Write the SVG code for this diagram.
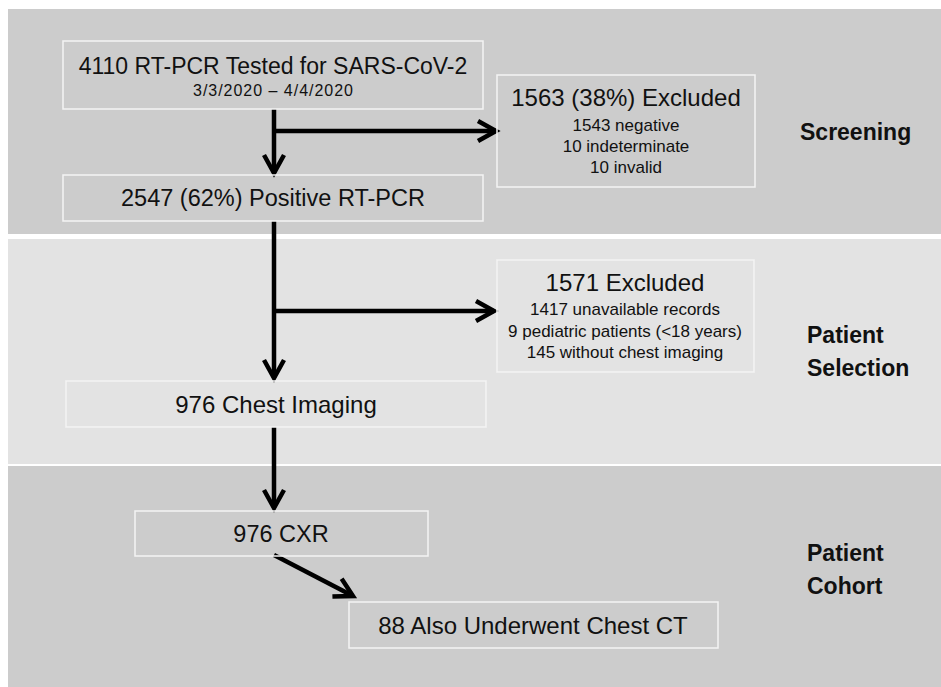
<svg xmlns="http://www.w3.org/2000/svg" width="941" height="687" viewBox="0 0 941 687">
<defs>
<style>
.band1{fill:#cccccc}
.band2{fill:#e3e3e3}
.box{fill:none;stroke:#f4f4f4;stroke-width:1.5}
.t{font-family:"Liberation Sans",Arial,sans-serif;fill:#111;text-anchor:middle}
.big{font-size:24px}
.small{font-size:17px}
.lbl{font-family:"Liberation Sans",Arial,sans-serif;font-weight:bold;font-size:23px;fill:#111}
.conn{stroke:#000;stroke-width:4.5;fill:none}
</style>
<marker id="ah" markerUnits="userSpaceOnUse" orient="auto" refX="0" refY="0" markerWidth="30" markerHeight="30" viewBox="-25 -15 30 30" overflow="visible">
<path d="M-18,-10 L0,0 L-18,10" fill="none" stroke="#000" stroke-width="4.5" stroke-linejoin="miter"/>
</marker>
</defs>
<rect x="0" y="0" width="941" height="687" fill="#ffffff"/>
<rect class="band1" x="8" y="9" width="933" height="225"/>
<rect class="band2" x="8" y="239" width="933" height="225"/>
<rect class="band1" x="8" y="466" width="933" height="221"/>

<g id="connectors">
<line class="conn" x1="274" y1="109" x2="274" y2="173" marker-end="url(#ah)"/>
<line class="conn" x1="274" y1="131" x2="496" y2="131" marker-end="url(#ah)"/>
<line class="conn" x1="274" y1="221" x2="274" y2="378" marker-end="url(#ah)"/>
<line class="conn" x1="274" y1="311" x2="494" y2="311" marker-end="url(#ah)"/>
<line class="conn" x1="274" y1="427" x2="274" y2="508" marker-end="url(#ah)"/>
<line class="conn" x1="274" y1="555" x2="353" y2="596" marker-end="url(#ah)"/>
</g>

<g id="tested">
<rect class="box" x="63" y="41" width="420" height="68"/>
<text class="t" x="273" y="74" style="font-size:23px">4110 RT-PCR Tested for SARS-CoV-2</text>
<text class="t" x="273" y="96" style="font-size:16px" textLength="160">3/3/2020 – 4/4/2020</text>
</g>

<g id="excluded1">
<rect class="box" x="497" y="75" width="258" height="112"/>
<text class="t big" x="626" y="106">1563 (38%) Excluded</text>
<text class="t small" x="626" y="131">1543 negative</text>
<text class="t small" x="626" y="152">10 indeterminate</text>
<text class="t small" x="626" y="173">10 invalid</text>
</g>

<g id="positive">
<rect class="box" x="63" y="175" width="420" height="46"/>
<text class="t" x="273" y="206" style="font-size:23.5px">2547 (62%) Positive RT-PCR</text>
</g>

<g id="excluded2">
<rect class="box" x="497" y="260" width="257" height="112"/>
<text class="t big" x="625" y="291">1571 Excluded</text>
<text class="t small" x="625" y="315">1417 unavailable records</text>
<text class="t small" x="625" y="337">9 pediatric patients (&lt;18 years)</text>
<text class="t small" x="625" y="358">145 without chest imaging</text>
</g>

<g id="chest-imaging">
<rect class="box" x="66" y="381" width="420" height="46"/>
<text class="t big" x="276" y="413">976 Chest Imaging</text>
</g>

<g id="cxr">
<rect class="box" x="135" y="511" width="293" height="45"/>
<text class="t" x="281" y="542" style="font-size:23.5px">976 CXR</text>
</g>

<g id="ct">
<rect class="box" x="349" y="602" width="369" height="46"/>
<text class="t big" x="533" y="634">88 Also Underwent Chest CT</text>
</g>

<g id="labels">
<text class="lbl" x="800" y="140">Screening</text>
<text class="lbl" x="807" y="343">Patient</text>
<text class="lbl" x="807" y="376">Selection</text>
<text class="lbl" x="807" y="561">Patient</text>
<text class="lbl" x="807" y="594">Cohort</text>
</g>
</svg>
